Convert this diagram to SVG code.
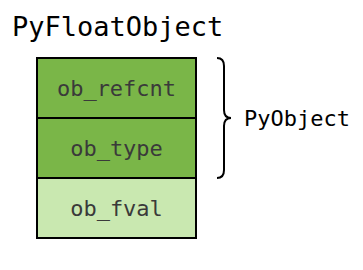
<svg xmlns="http://www.w3.org/2000/svg" width="363" height="270" viewBox="0 0 363 270">
<style>
.t{font-family:"DejaVu Sans Mono",monospace;}
.cell{stroke:#000;stroke-width:2;}
.lbl{font-family:"DejaVu Sans Mono",monospace;font-size:22px;fill:#3a3a3a;text-anchor:middle;}
</style>
<rect width="363" height="270" fill="#fff"/>
<text class="t" x="12" y="36" font-size="27" fill="#000">PyFloatObject</text>
<g id="ob_refcnt"><rect class="cell" x="37" y="58" width="159" height="60" fill="#7ab648"/><text class="lbl" x="116.5" y="96">ob_refcnt</text></g>
<g id="ob_type"><rect class="cell" x="37" y="118" width="159" height="60" fill="#7ab648"/><text class="lbl" x="116.5" y="156">ob_type</text></g>
<g id="ob_fval"><rect class="cell" x="37" y="178" width="159" height="60" fill="#c9e8b0"/><text class="lbl" x="116.5" y="216">ob_fval</text></g>
<g id="connectors"><path d="M217,58 Q224,58 224,66 L224,110 Q224,118 231,118 Q224,118 224,126 L224,170 Q224,178 217,178" fill="none" stroke="#000" stroke-width="2"/></g>
<g id="PyObject"><text class="t" x="244" y="126" font-size="22" fill="#000">PyObject</text></g>
</svg>
